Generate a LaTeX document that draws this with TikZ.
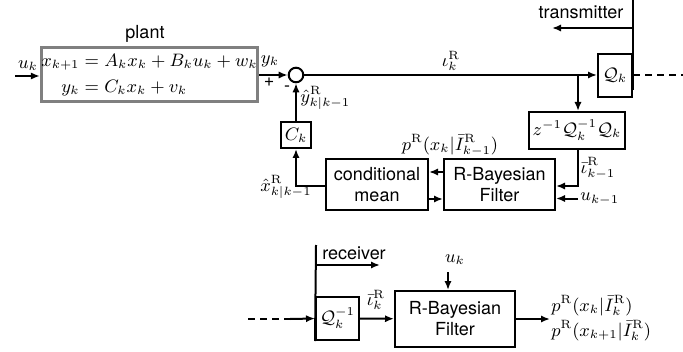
\documentclass[tikz,border=0pt]{standalone}
\usepackage{amsmath}
\usepackage{fontspec}
\newfontfamily\helv{TeX Gyre Heros}
\usepackage{xcolor}
\usepackage{tikz}
\usetikzlibrary{arrows.meta,positioning,calc}
\definecolor{plantgray}{RGB}{128,128,128}

\begin{document}
\begin{tikzpicture}[x=0.5pt, y=-0.5pt, font=\fontsize{9}{11}\selectfont, every node/.style={inner sep=1pt}]
        \tikzset{
            blk/.style={draw, line width=1pt, align=center, inner sep=0pt},
            txt/.style={font=\fontsize{9}{10.5}\selectfont\helv},
            arr/.style={-{Latex[length=4.5pt,width=3.6pt]}, line width=1pt},
            wire/.style={line width=1pt},
            dashwire/.style={line width=1pt, dash pattern=on 3.3pt off 2.7pt}
        }
        \useasboundingbox (0,0) rectangle (683,352);
        \node[blk, draw=plantgray, line width=1.5pt, minimum width=104.5pt, minimum height=27pt] (plant) at (149.5,75) {$\begin{aligned} x_{k+1} &= A_k x_k + B_k u_k + w_k\\[-1pt] y_k &= C_k x_k + v_k\end{aligned}$};
        \node[txt] (plantlbl) at (145,34) {plant};
        \coordinate (uin) at (15,76);
        \node (ulbl) at (28,66) {$u_k$};
        \node[draw, circle, line width=1pt, minimum size=7.3pt, inner sep=0pt] (sum) at (296,75) {};
        \node (ylbl) at (270,61) {$y_k$};
        \node[txt] (plus) at (269,82) {+};
        \node[txt] (minus) at (287,89) {-};
        \node[blk, minimum width=15pt, minimum height=13pt] (ck) at (296,135) {$C_k$};
        \node[anchor=west, inner sep=0pt] (yhat) at (300,98) {$\hat{y}^{\mathrm{R}}_{k|k-1}$};
        \node[blk, minimum width=17pt, minimum height=21.5pt] (qk) at (615,75.5) {$\mathcal{Q}_k$};
        \node (iota) at (451,61) {$\iota^{\mathrm{R}}_k$};
        \coordinate (br) at (578,75);
        \node[blk, minimum width=48pt, minimum height=18.5pt] (zq) at (577,130.5) {$z^{-1}\mathcal{Q}_k^{-1}\mathcal{Q}_k$};
        \coordinate (ttop) at (633,0);
        \coordinate (tbot) at (633,90);
        \coordinate (tmid) at (633,28);
        \coordinate (tend) at (552,28);
        \node[txt] (tlbl) at (581,12) {transmitter};
        \coordinate (qout) at (683,75.5);
        \node[blk, txt, minimum width=55.5pt, minimum height=25.5pt] (rbf) at (499.5,184.5) {R-Bayesian\\Filter};
        \node[blk, txt, minimum width=51pt, minimum height=25.5pt] (cm) at (377,184.5) {conditional\\mean};
        \node (plbl) at (450,145) {$p^{\mathrm{R}}(x_k|\bar{I}^{\mathrm{R}}_{k-1})$};
        \node[anchor=north east, inner sep=0pt] (xhat) at (312,175) {$\hat{x}^{\mathrm{R}}_{k|k-1}$};
        \node (ibar) at (598,168) {$\bar{\iota}^{\mathrm{R}}_{k-1}$};
        \coordinate (uprev) at (578,198.5);
        \node[anchor=west, inner sep=0pt] (uprevlbl) at (580,199) {$u_{k-1}$};
        \draw[arr] (uin) -- (uin -| plant.west);
        \draw[arr] (plant.east |- sum) -- (sum.west);
        \draw[arr] (ck) -- (sum);
        \draw[arr] (sum.east) -- (sum.east -| qk.west);
        \draw[arr] (br) -- (br |- zq.north);
        \draw[wire] (ttop) -- (tbot);
        \draw[arr] (tmid) -- (tend);
        \draw[dashwire] (qk.east) -- (qout);
        \draw[arr] ($(rbf.west)+(0,-12.5)$) -- ($(cm.east)+(0,-12.5)$);
        \draw[arr] ($(cm.east)+(0,14.5)$) -- ($(rbf.west)+(0,14.5)$);
        \draw[arr] ($(cm.west)+(0,1.5)$) -| (ck.south);
        \draw[arr] (zq.south -| br) |- ($(rbf.east)+(0,1.5)$);
        \draw[arr] (uprev) -- (uprev -| rbf.east);
        \coordinate (rtop) at (316,245);
        \coordinate (rmid) at (316,265);
        \coordinate (rend) at (380,265);
        \node[txt] (rlbl) at (354,253) {receiver};
        \node[blk, minimum width=21.5pt, minimum height=21.5pt] (qinv) at (337.5,318.5) {$\mathcal{Q}_k^{-1}$};
        \coordinate (din) at (248,319);
        \coordinate (dmid) at (290,319);
        \node[blk, txt, minimum width=60pt, minimum height=28pt] (rbf2) at (455,319) {R-Bayesian\\Filter};
        \node (ibark) at (376,300) {$\bar{\iota}^{\mathrm{R}}_k$};
        \node (uk) at (455,260) {$u_k$};
        \coordinate (ukarr) at (448,272);
        \coordinate (pout) at (550,319);
        \node[anchor=west, align=left, inner sep=0pt, font=\fontsize{9}{12.5}\selectfont] (plbl2) at (551,318) {$p^{\mathrm{R}}(x_k|\bar{I}^{\mathrm{R}}_k)$\\$p^{\mathrm{R}}(x_{k+1}|\bar{I}^{\mathrm{R}}_k)$};
        \draw[wire] (rtop) -- (qinv.south west);
        \draw[arr] (rmid) -- (rend);
        \draw[dashwire] (din) -- (dmid);
        \draw[arr] (dmid) -- (qinv.west);
        \draw[arr] (qinv) -- (rbf2);
        \draw[arr] (ukarr) -- (ukarr |- rbf2.north);
        \draw[arr] (rbf2.east) -- (pout);
    \end{tikzpicture}
\end{document}
